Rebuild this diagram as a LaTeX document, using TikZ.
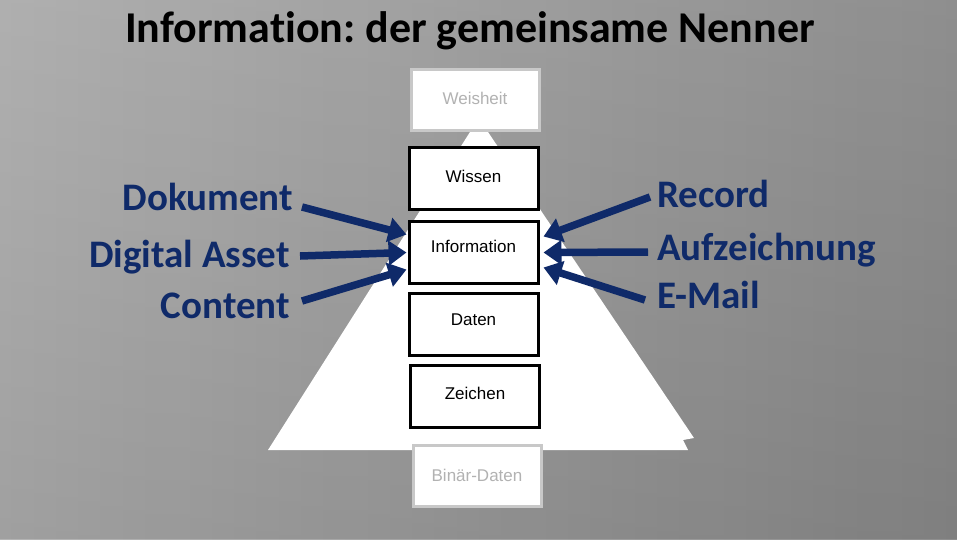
\documentclass[tikz,border=0pt]{standalone}
\usepackage{fontspec}
\setmainfont{Liberation Sans}
\newfontfamily\calib[Ligatures={NoCommon}]{Carlito}
\usetikzlibrary{arrows.meta,calc}
\definecolor{navy}{RGB}{15,42,105}
\definecolor{lightedge}{RGB}{200,200,200}
\definecolor{lighttext}{RGB}{178,178,178}
\frenchspacing
\tikzset{
  darkbox/.style={draw=black, line width=3pt, fill=white, inner sep=0pt,
    minimum width=129pt, minimum height=62pt, text height=12pt,
    font=\fontsize{17}{20}\selectfont},
  lightbox/.style={draw=lightedge, line width=3pt, fill=white, inner sep=0pt,
    minimum width=128pt, minimum height=61pt, text height=12pt, text=lighttext,
    font=\fontsize{17}{20}\selectfont},
  biglabel/.style={inner sep=0pt, text=navy, font=\calib\bfseries\fontsize{39}{44}\selectfont},
  bigarrow/.style={draw=navy, line width=7.5pt, -{Triangle[length=18pt,width=24pt]}},
}
\begin{document}
\begin{tikzpicture}[x=1pt,y=-1pt]
  % background
  \shade[left color={rgb,255:red,188;green,188;blue,188}, middle color={rgb,255:red,218;green,218;blue,218},
         right color={rgb,255:red,145;green,145;blue,145}] (0,0) rectangle (957,539);
  \fill[top color=white, bottom color=gray, opacity=0.12] (0,0) rectangle (957,539);
  \useasboundingbox (0,0) rectangle (957,539);

  % title
  \node[anchor=base west, inner sep=0pt, font=\calib\bfseries\fontsize{44}{50}\selectfont] (title) at (125,42)
    {Information: der gemeinsame Nenner};

  % pyramid
  \fill[white] (470,132) -- (488,132) -- (694,438) -- (683,440) -- (688,450) -- (268,450) -- cycle;

  % boxes
  \node[lightbox, text depth=4pt] (weis) at (475,100) {Weisheit};
  \node[darkbox, text depth=5pt] (wiss) at (473.5,178.5) {Wissen};
  \node[darkbox, text depth=13pt] (info) at (473.5,252.5) {Information};
  \node[darkbox, text depth=11pt] (dat) at (473.5,324.5) {Daten};
  \node[darkbox, text depth=7pt] (zei) at (475,396.5) {Zeichen};
  \node[lightbox, text depth=2pt] (bin) at (477,476) {Binär-Daten};

  % labels
  \node[biglabel, anchor=base east] (dok) at (293,210) {Dokument};
  \node[biglabel, anchor=base east] (dig) at (290,267) {Digital Asset};
  \node[biglabel, anchor=base east] (con) at (290,318) {Content};
  \node[biglabel, anchor=base west] (rec) at (657,207) {Record};
  \node[biglabel, anchor=base west] (auf) at (657,260) {Aufzeichnung};
  \node[biglabel, anchor=base west] (mail) at (657,308) {E-Mail};

  % arrow ends
  \coordinate (s1) at (302,207);
  \coordinate (s2) at (300,256);
  \coordinate (s3) at (302,301);
  \coordinate (s4) at (650,197);
  \coordinate (s5) at (648,252);
  \coordinate (s6) at (645,300);
  \coordinate (t1) at ($(info.west)+(-1,-18)$);
  \coordinate (t2) at ($(info.west)+(-1,0)$);
  \coordinate (t3) at ($(info.west)+(-1,17)$);
  \coordinate (t4) at ($(info.east)+(4,-16)$);
  \coordinate (t5) at ($(info.east)+(4,0)$);
  \coordinate (t6) at ($(info.east)+(4,15)$);

  \draw[bigarrow] (s1) -- (t1);
  \draw[bigarrow] (s2) -- (t2);
  \draw[bigarrow] (s3) -- (t3);
  \draw[bigarrow] (s4) -- (t4);
  \draw[bigarrow] (s5) -- (t5);
  \draw[bigarrow] (s6) -- (t6);
\end{tikzpicture}
\end{document}
